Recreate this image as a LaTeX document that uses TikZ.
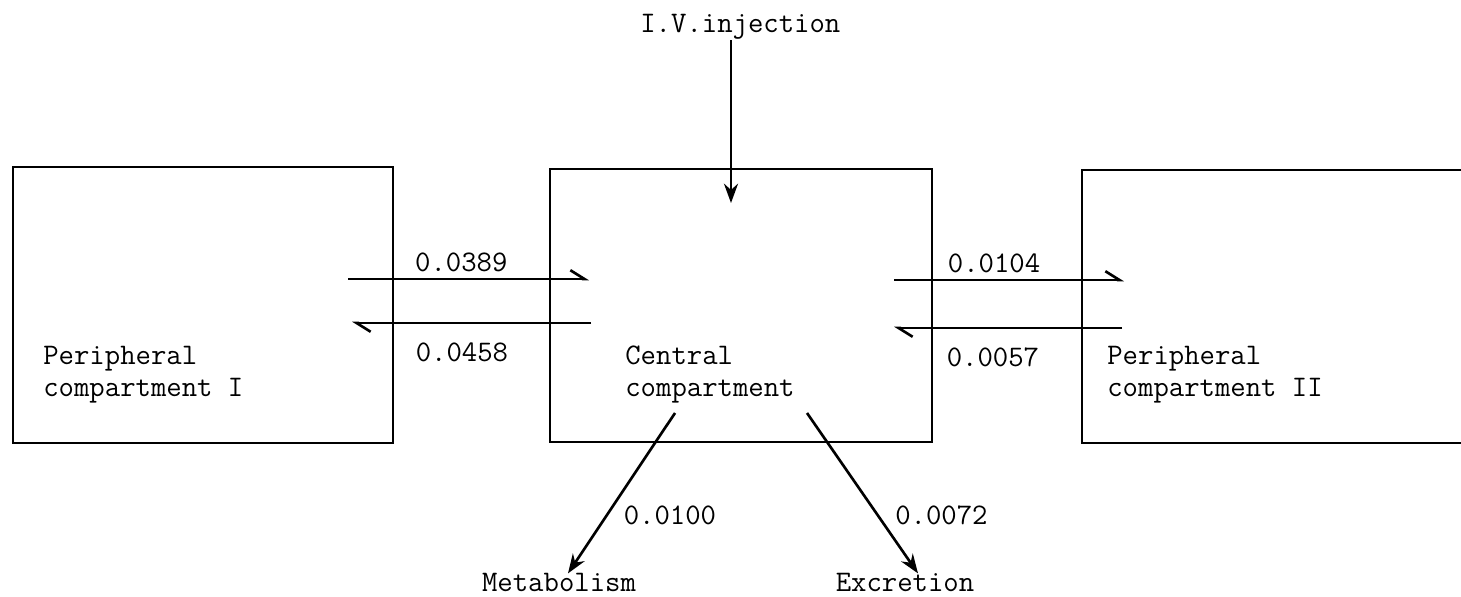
\documentclass[tikz,border=0pt]{standalone}
\usepackage{fontspec}
\usetikzlibrary{arrows.meta}
\begin{document}
\begin{tikzpicture}
[x=0.02cm,y=-0.02cm,
 boxdecorate/.style={shape=rectangle,draw,line width=1.5pt,inner sep=0pt},%
 textdecorate/.style={font=\ttfamily\fontsize{17}{18.5}\selectfont,inner sep=0pt,align=left},%
 ratedecorate/.style={font=\ttfamily\fontsize{17}{18.5}\selectfont,inner sep=3.4pt},%
 flowdecorate/.style={line width=1.5pt,-{Stealth[length=11pt,width=8pt]}},%
 exchdecorate/.style={line width=1.5pt,-{Straight Barb[left,length=8pt,width=10pt]}}]
\useasboundingbox (0,0) rectangle (1461,597);
\clip (0,0) rectangle (1461,597);
%% compartments
\foreach \nodename/\x/\y/\w/\h in {PeriphI/203/305/380/276,
  Central/741/305.5/382/273, PeriphII/1276/306.5/388/273}
{
  \node (\nodename) at (\x,\y) [boxdecorate,minimum width=\w*0.02cm,minimum height=\h*0.02cm] {};
}
\node (PeriphIlabel) at (43,397) [textdecorate,anchor=base west] {Peripheral\\compartment I};
\node (Centrallabel) at (625,397) [textdecorate,anchor=base west] {Central\\compartment};
\node (PeriphIIlabel) at (1107,397) [textdecorate,anchor=base west] {Peripheral\\compartment II};
\node (IVlabel) at (640,33) [textdecorate,anchor=base west] {I.V.injection};
\node (Metablabel) at (559,592) [textdecorate,anchor=base] {Metabolism};
\node (Excrlabel) at (905,592) [textdecorate,anchor=base] {Excretion};
%% free ends of the arrows
\foreach \pointname/\x/\y in {IaOut/348/279, IaIn/589/279, IbOut/591/323, IbIn/352/323,
  IIaOut/894/280, IIaIn/1124/280, IIbOut/1122/328, IIbIn/894/328,
  IVin/731/203, MetabOut/675/413, ExcrOut/807/413}
{
  \coordinate (\pointname) at (\x,\y);
}
%% exchange rates
\path
\foreach \startnode/\endnode/\position/\shift/\where/\rate in {
  IaOut/IaIn/above/0pt/0.47/0.0389, IbOut/IbIn/below/-7pt/0.54/0.0458,
  IIaOut/IIaIn/above/0pt/0.435/0.0104, IIbOut/IIbIn/below/-7pt/0.566/0.0057}
{
  (\startnode) edge[exchdecorate] node[ratedecorate,\position,yshift=\shift,pos=\where] {\rate} (\endnode)
};
%% input and elimination
\draw[flowdecorate] (IVin |- IVlabel.south) -- (IVin);
\draw[flowdecorate] (MetabOut) -- node[ratedecorate,pos=0.64,right=0.2cm] {0.0100} ([xshift=0.18cm]Metablabel.north);
\draw[flowdecorate] (ExcrOut) -- node[ratedecorate,pos=0.64,right=0.2cm] {0.0072} ([xshift=0.26cm]Excrlabel.north);
\end{tikzpicture}
\end{document}
